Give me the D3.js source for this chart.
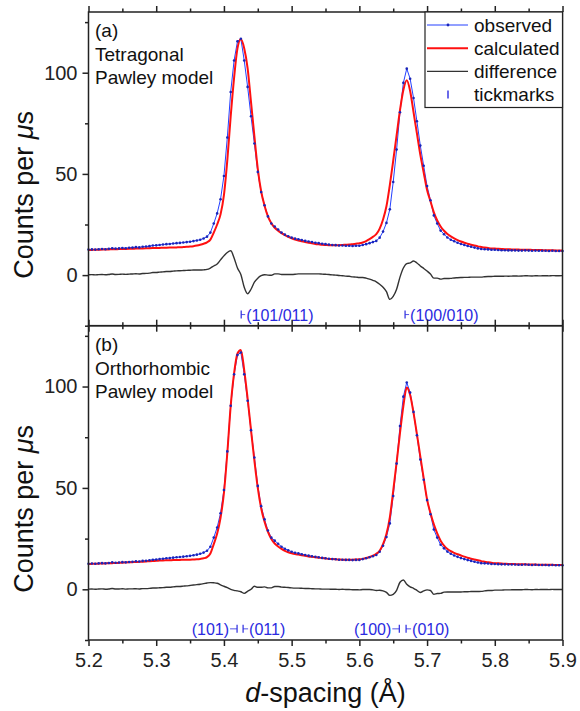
<!DOCTYPE html>
<html>
<head>
<meta charset="utf-8">
<script src="https://cdn.jsdelivr.net/npm/d3@7"></script>
<style>
  body { margin: 0; background: #fff; }
  svg { display: block; }
  text { font-family: "Liberation Sans", Arial, sans-serif; }
</style>
</head>
<body>
<div id="chart"></div>
<script>
// d-spacing grid (Å), 5.200 ... 5.900 in steps of 0.005
const dSpacing = d3.range(141).map((i) => +(5.2 + i * 0.005).toFixed(3));

// observed counts per microsecond (same data in both panels)
const observed = [
  12.6, 12.7, 12.6, 12.8, 12.9, 12.8, 13.0, 13.3, 13.1, 13.2,
  13.4, 13.3, 13.5, 13.6, 13.8, 13.7, 14.0, 14.1, 14.3, 14.6,
  14.7, 14.9, 15.1, 15.3, 15.4, 15.6, 15.8, 15.9, 16.1, 16.3,
  16.5, 16.8, 17.1, 17.5, 18.1, 19.0, 21.0, 25.5, 30.5, 37.5,
  49.0, 68.0, 90.5, 106.0, 115.5, 116.8, 106.0, 93.0, 78.5, 65.0,
  51.0, 41.0, 34.5, 29.0, 25.5, 24.0, 22.5, 21.0, 20.0, 19.2,
  18.5, 18.0, 17.7, 17.3, 16.9, 16.6, 16.3, 16.0, 15.8, 15.5,
  15.3, 15.1, 14.9, 14.8, 14.6, 14.6, 14.5, 14.5, 14.4, 14.5,
  14.5, 14.9, 15.3, 15.8, 16.3, 16.9, 18.5, 21.5, 25.8, 32.5,
  46.0, 62.0, 80.5, 95.0, 102.0, 97.0, 87.5, 76.0, 64.0, 54.0,
  44.0, 37.0, 29.5, 25.5, 22.0, 20.2, 18.6, 17.5, 16.7, 16.0,
  15.4, 14.9, 14.4, 14.0, 13.6, 13.2, 12.9, 12.8, 12.7, 12.5,
  12.5, 12.4, 12.3, 12.3, 12.2, 12.2, 12.2, 12.1, 12.1, 12.2,
  12.1, 12.0, 12.1, 12.0, 12.0, 12.0, 11.9, 12.0, 11.9, 11.9,
  11.9
];

// calculated, tetragonal Pawley model (a)
const calcTetragonal = [
  12.4, 12.45, 12.5, 12.55, 12.6, 12.65, 12.7, 12.75, 12.8, 12.85,
  12.9, 12.95, 13.0, 13.05, 13.1, 13.15, 13.2, 13.25, 13.3, 13.35,
  13.4, 13.45, 13.5, 13.55, 13.6, 13.65, 13.7, 13.75, 13.85, 13.95,
  14.1, 14.3, 14.6, 15.0, 15.5, 16.2, 17.5, 21.0, 25.0, 30.0,
  39.5, 56.8, 78.5, 97.5, 112.0, 116.5, 112.0, 102.2, 85.5, 68.5,
  52.5, 41.3, 34.3, 29.0, 25.6, 23.4, 21.9, 20.7, 19.7, 18.9,
  18.2, 17.6, 17.1, 16.7, 16.3, 16.0, 15.7, 15.4, 15.2, 15.0,
  14.9, 14.8, 14.8, 14.8, 14.8, 14.9, 15.0, 15.1, 15.3, 15.5,
  15.7, 16.1, 16.8, 17.8, 18.9, 20.2, 23.0, 27.5, 34.0, 44.5,
  56.5, 69.0, 81.5, 91.5, 96.3, 91.0, 80.5, 70.0, 59.5, 50.7,
  42.0, 36.5, 31.0, 27.0, 24.0, 21.9, 20.3, 19.1, 18.1, 17.3,
  16.6, 16.0, 15.5, 15.0, 14.6, 14.2, 13.9, 13.6, 13.4, 13.2,
  13.1, 13.0, 12.9, 12.8, 12.75, 12.7, 12.65, 12.6, 12.55, 12.5,
  12.5, 12.45, 12.4, 12.4, 12.35, 12.3, 12.3, 12.25, 12.2, 12.2,
  12.15
];

// calculated, orthorhombic Pawley model (b)
const calcOrthorhombic = [
  12.5, 12.55, 12.6, 12.65, 12.7, 12.75, 12.85, 12.9, 12.95, 13.05,
  13.1, 13.2, 13.3, 13.4, 13.5, 13.55, 13.65, 13.75, 13.85, 13.95,
  14.05, 14.15, 14.25, 14.3, 14.35, 14.4, 14.45, 14.5, 14.55, 14.6,
  14.6, 14.7, 14.8, 15.0, 15.3, 15.9, 17.7, 22.3, 27.5, 35.3,
  47.5, 67.2, 90.5, 106.5, 116.3, 118.0, 108.0, 94.0, 78.5, 63.5,
  50.0, 40.0, 33.3, 28.3, 24.8, 22.6, 21.1, 19.9, 19.0, 18.3,
  17.8, 17.4, 17.1, 16.8, 16.5, 16.2, 16.0, 15.8, 15.6, 15.4,
  15.2, 15.0, 14.9, 14.8, 14.7, 14.6, 14.6, 14.6, 14.6, 14.7,
  14.8, 15.0, 15.4, 15.9, 16.6, 17.5, 19.0, 22.3, 27.3, 35.5,
  48.5, 62.5, 77.0, 90.4, 99.5, 95.8, 87.0, 76.5, 65.6, 54.8,
  44.3, 37.6, 32.0, 27.6, 24.0, 21.6, 19.9, 18.8, 18.0, 17.3,
  16.7, 16.1, 15.6, 15.1, 14.7, 14.3, 13.9, 13.6, 13.3, 13.1,
  12.9, 12.8, 12.7, 12.6, 12.5, 12.45, 12.4, 12.35, 12.3, 12.3,
  12.25, 12.2, 12.2, 12.15, 12.1, 12.1, 12.05, 12.05, 12.0, 12.0,
  12.0
];

// reflection tick marks
const tickPosA = [5.4255, 5.6675];
const tickLabelA = ["(101/011)", "(100/010)"];
const tickPosB = [5.4194, 5.4283, 5.659, 5.669];
const tickLabelB = ["(101)", "(011)", "(100)", "(010)"];

// axis ticks
const xMajor = [5.2, 5.3, 5.4, 5.5, 5.6, 5.7, 5.8, 5.9];
const xMinor = [5.25, 5.35, 5.45, 5.55, 5.65, 5.75, 5.85];
const yMajor = [0, 50, 100];
const yMinor = [-25, 25, 75, 125];

const legendItems = ["observed", "calculated", "difference", "tickmarks"];

const W = 580, H = 711;
const left = 88.5, right = 562.5;
const blue = "#2440ff", dotBlue = "#1a25b8", red = "#ff1010", grey = "#333", tickBlue = "#2a2ae0";

const svg = d3.select("#chart").append("svg").attr("width", W).attr("height", H);

const x = d3.scaleLinear().domain([5.2, 5.9]).range([left, right]);

const panels = [
  { top: 12, bottom: 325.7, calc: calcTetragonal, tag: "(a)", name: ["Tetragonal", "Pawley model"],
    ticks: tickPosA, labels: tickLabelA, labelled: false },
  { top: 325.7, bottom: 640, calc: calcOrthorhombic, tag: "(b)", name: ["Orthorhombic", "Pawley model"],
    ticks: tickPosB, labels: tickLabelB, labelled: true }
];

panels.forEach((p, pi) => {
  const y = d3.scaleLinear().domain([-25, 130]).range([p.bottom, p.top]);
  const g = svg.append("g");

  const obsData = dSpacing.map((d, i) => ({ d: d, v: observed[i] }));
  const calcData = dSpacing.map((d, i) => ({ d: d, v: p.calc[i] }));
  const diffData = dSpacing.map((d, i) => ({ d: d, v: observed[i] - p.calc[i] }));

  const line = d3.line().x((d) => x(d.d)).y((d) => y(d.v)).curve(d3.curveMonotoneX);

  // difference
  g.append("path").datum(diffData).attr("d", line)
    .attr("fill", "none").attr("stroke", grey).attr("stroke-width", 1.4);

  // observed line
  g.append("path").datum(obsData).attr("d", d3.line().x((d) => x(d.d)).y((d) => y(d.v)))
    .attr("fill", "none").attr("stroke", blue).attr("stroke-width", 1);

  // calculated
  g.append("path").datum(calcData).attr("d", line)
    .attr("fill", "none").attr("stroke", red).attr("stroke-width", 2);

  // observed points
  g.append("g").selectAll("circle").data(obsData).join("circle")
    .attr("cx", (d) => x(d.d)).attr("cy", (d) => y(d.v)).attr("r", 1.3)
    .attr("fill", dotBlue);

  // frame
  g.append("rect").attr("x", left).attr("y", p.top)
    .attr("width", right - left).attr("height", p.bottom - p.top)
    .attr("fill", "none").attr("stroke", "#222").attr("stroke-width", 1.5);

  // axes
  const styleAxis = (sel) => {
    sel.select(".domain").remove();
    sel.selectAll("line").attr("stroke", "#222").attr("stroke-width", 1.5);
    sel.selectAll("text").attr("fill", "#222").style("font-size", "20px");
  };
  g.append("g").attr("transform", `translate(${left},0)`)
    .call(d3.axisLeft(y).tickValues(yMajor).tickSize(6).tickPadding(5)).call(styleAxis);
  g.append("g").attr("transform", `translate(${left},0)`)
    .call(d3.axisLeft(y).tickValues(yMinor).tickSize(3.5).tickFormat("")).call(styleAxis);
  g.append("g").attr("transform", `translate(0,${p.top})`)
    .call(d3.axisTop(x).tickValues(xMajor).tickSize(6).tickFormat("")).call(styleAxis);
  g.append("g").attr("transform", `translate(0,${p.top})`)
    .call(d3.axisTop(x).tickValues(xMinor).tickSize(3.5).tickFormat("")).call(styleAxis);
  const bottomAxis = d3.axisBottom(x).tickValues(xMajor).tickSize(6).tickPadding(7)
    .tickFormat(p.labelled ? d3.format(".1f") : "");
  g.append("g").attr("transform", `translate(0,${p.bottom})`).call(bottomAxis).call(styleAxis);
  g.append("g").attr("transform", `translate(0,${p.bottom})`)
    .call(d3.axisBottom(x).tickValues(xMinor).tickSize(3.5).tickFormat("")).call(styleAxis);

  // y title
  const yc = (p.top + p.bottom) / 2 + 26;
  const yt = g.append("text").attr("transform", `translate(33,${yc}) rotate(-90)`)
    .attr("text-anchor", "middle").style("font-size", "27px").attr("fill", "#111");
  yt.append("tspan").text("Counts per ");
  yt.append("tspan").style("font-style", "italic").text("μ");
  yt.append("tspan").text("s");

  // panel labels
  g.append("text").attr("x", 95).attr("y", p.top + 25).style("font-size", "19px").attr("fill", "#111").text(p.tag);
  p.name.forEach((t, k) => {
    g.append("text").attr("x", 95).attr("y", p.top + 49 + k * 23).style("font-size", "19px").attr("fill", "#111").text(t);
  });

  // reflection tick marks
  const tickY = y(-19.5);
  const tg = g.append("g");
  tg.selectAll("line.bar").data(p.ticks).join("line").attr("class", "bar")
    .attr("x1", (d) => x(d)).attr("x2", (d) => x(d))
    .attr("y1", tickY - 4).attr("y2", tickY + 4)
    .attr("stroke", tickBlue).attr("stroke-width", 1.2);
  if (pi === 0) {
    p.ticks.forEach((d, k) => {
      tg.append("line").attr("x1", x(d)).attr("x2", x(d) + 4).attr("y1", tickY).attr("y2", tickY)
        .attr("stroke", tickBlue).attr("stroke-width", 0.8);
      tg.append("text").attr("x", x(d) + 5).attr("y", tickY + 6).style("font-size", "16px")
        .attr("fill", tickBlue).text(p.labels[k]);
    });
  } else {
    p.ticks.forEach((d, k) => {
      const isLeft = k % 2 === 0;
      const x0 = x(d);
      const x1 = isLeft ? x0 - 7 : x0 + 5;
      tg.append("line").attr("x1", x0).attr("x2", x1).attr("y1", tickY).attr("y2", tickY)
        .attr("stroke", tickBlue).attr("stroke-width", 0.8);
      tg.append("text").attr("x", isLeft ? x0 - 8 : x0 + 6).attr("y", tickY + 6)
        .attr("text-anchor", isLeft ? "end" : "start").style("font-size", "16px")
        .attr("fill", tickBlue).text(p.labels[k]);
    });
  }
});

// x title
const xt = svg.append("text").attr("x", (left + right) / 2).attr("y", 702)
  .attr("text-anchor", "middle").style("font-size", "27px").attr("fill", "#111");
xt.append("tspan").style("font-style", "italic").text("d");
xt.append("tspan").text("-spacing (Å)");

// legend
const lg = svg.append("g");
lg.append("rect").attr("x", 425).attr("y", 12).attr("width", right - 425).attr("height", 95.5)
  .attr("fill", "#fff").attr("stroke", "#222").attr("stroke-width", 1.2);
legendItems.forEach((name, i) => {
  const ly = 25 + i * 23.2;
  if (i === 0) {
    lg.append("line").attr("x1", 427).attr("x2", 468).attr("y1", ly).attr("y2", ly).attr("stroke", blue).attr("stroke-width", 1);
    lg.append("circle").attr("cx", 448).attr("cy", ly).attr("r", 1.4).attr("fill", dotBlue);
  } else if (i === 1) {
    lg.append("line").attr("x1", 427).attr("x2", 468).attr("y1", ly).attr("y2", ly).attr("stroke", red).attr("stroke-width", 2);
  } else if (i === 2) {
    lg.append("line").attr("x1", 427).attr("x2", 468).attr("y1", ly).attr("y2", ly).attr("stroke", grey).attr("stroke-width", 1.4);
  } else {
    lg.append("line").attr("x1", 448).attr("x2", 448).attr("y1", ly - 4).attr("y2", ly + 4).attr("stroke", tickBlue).attr("stroke-width", 1.4);
  }
  lg.append("text").attr("x", 474).attr("y", ly + 6.5).style("font-size", "19px").attr("fill", "#111").text(name);
});
</script>
</body>
</html>
